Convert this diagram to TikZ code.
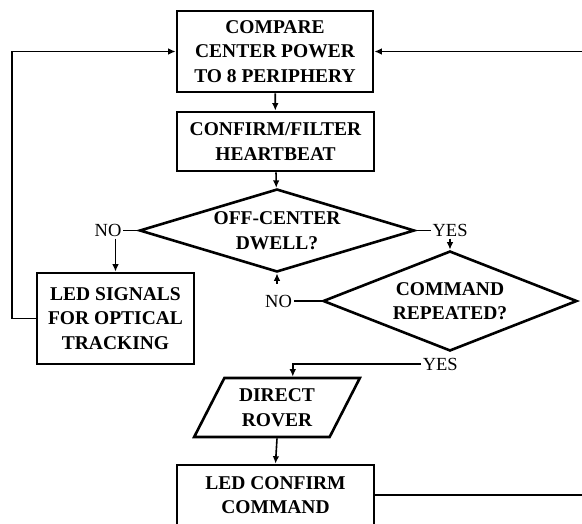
\documentclass[tikz,border=0pt]{standalone}
\usepackage{fontspec}
\setmainfont{Liberation Serif}
\usetikzlibrary{shapes.geometric,arrows.meta,positioning}

\begin{document}
\begin{tikzpicture}[x=1pt,y=-1pt,line width=1.6pt,>={Latex[length=7.5pt,width=6.5pt]},
  box/.style={draw,line width=2.6pt,align=center,inner sep=0pt,font=\bfseries\fontsize{19.5}{24.5}\selectfont},
  query/.style={box,diamond,aspect=3},
  lbl/.style={inner sep=1pt,font=\fontsize{18.5}{22}\selectfont}]
\useasboundingbox (0,0) rectangle (582,523);
\node[box,minimum width=196pt,minimum height=81pt] (cmp) at (275,51.5) {COMPARE\\CENTER POWER\\TO 8 PERIPHERY};
\node[box,minimum width=197pt,minimum height=59pt] (hb) at (275.5,141.5) {CONFIRM/FILTER\\HEARTBEAT};
\node[query,minimum width=275pt,minimum height=83pt] (dwell) at (277,230.5) {OFF-CENTER\\DWELL?};
\node[query,minimum width=254pt,minimum height=100pt] (rep) at (450,301) {COMMAND\\REPEATED?};
\node[box,minimum width=157pt,minimum height=91pt] (led) at (115.5,318.5) {LED SIGNALS\\FOR OPTICAL\\TRACKING};
\node[box,trapezium,trapezium left angle=60,trapezium right angle=120,trapezium stretches=true,
  minimum width=166pt,minimum height=59pt] (rover) at (277,407.5) {DIRECT\\ROVER};
\node[box,minimum width=197pt,minimum height=60pt] (cfm) at (275.5,495) {LED CONFIRM\\COMMAND};
\node[lbl,left=15pt of dwell.west] (no1) {NO};
\node[lbl,right=15pt of dwell.east] (yes1) {YES};
\node[lbl,left=28pt of rep.west] (no2) {NO};
\node[lbl,anchor=west] (yes2) at (421,364) {YES};
\draw[->] (cmp) -- (hb);
\draw[->] (hb) -- (dwell);
\draw (dwell.west) -- (no1.east);
\draw[->] (no1.south -| led.north) -- (led.north);
\draw[->] (led.west) -- ++(-24,0) |- (cmp.west);
\draw (dwell.east) -- (yes1.west);
\draw[->] (yes1.south -| rep.north) -- (rep.north);
\draw (rep.west) -- (no2.east);
\draw[->] (no2.north -| dwell.south) ++(0,-9) -- (dwell.south);
\draw[->] (yes2.west) -| (rover.top side);
\draw[->] (rover.south) -- (cfm.north);
\draw[->] (cfm.east) -- ++(230,0) |- (cmp.east);
\end{tikzpicture}
\end{document}
